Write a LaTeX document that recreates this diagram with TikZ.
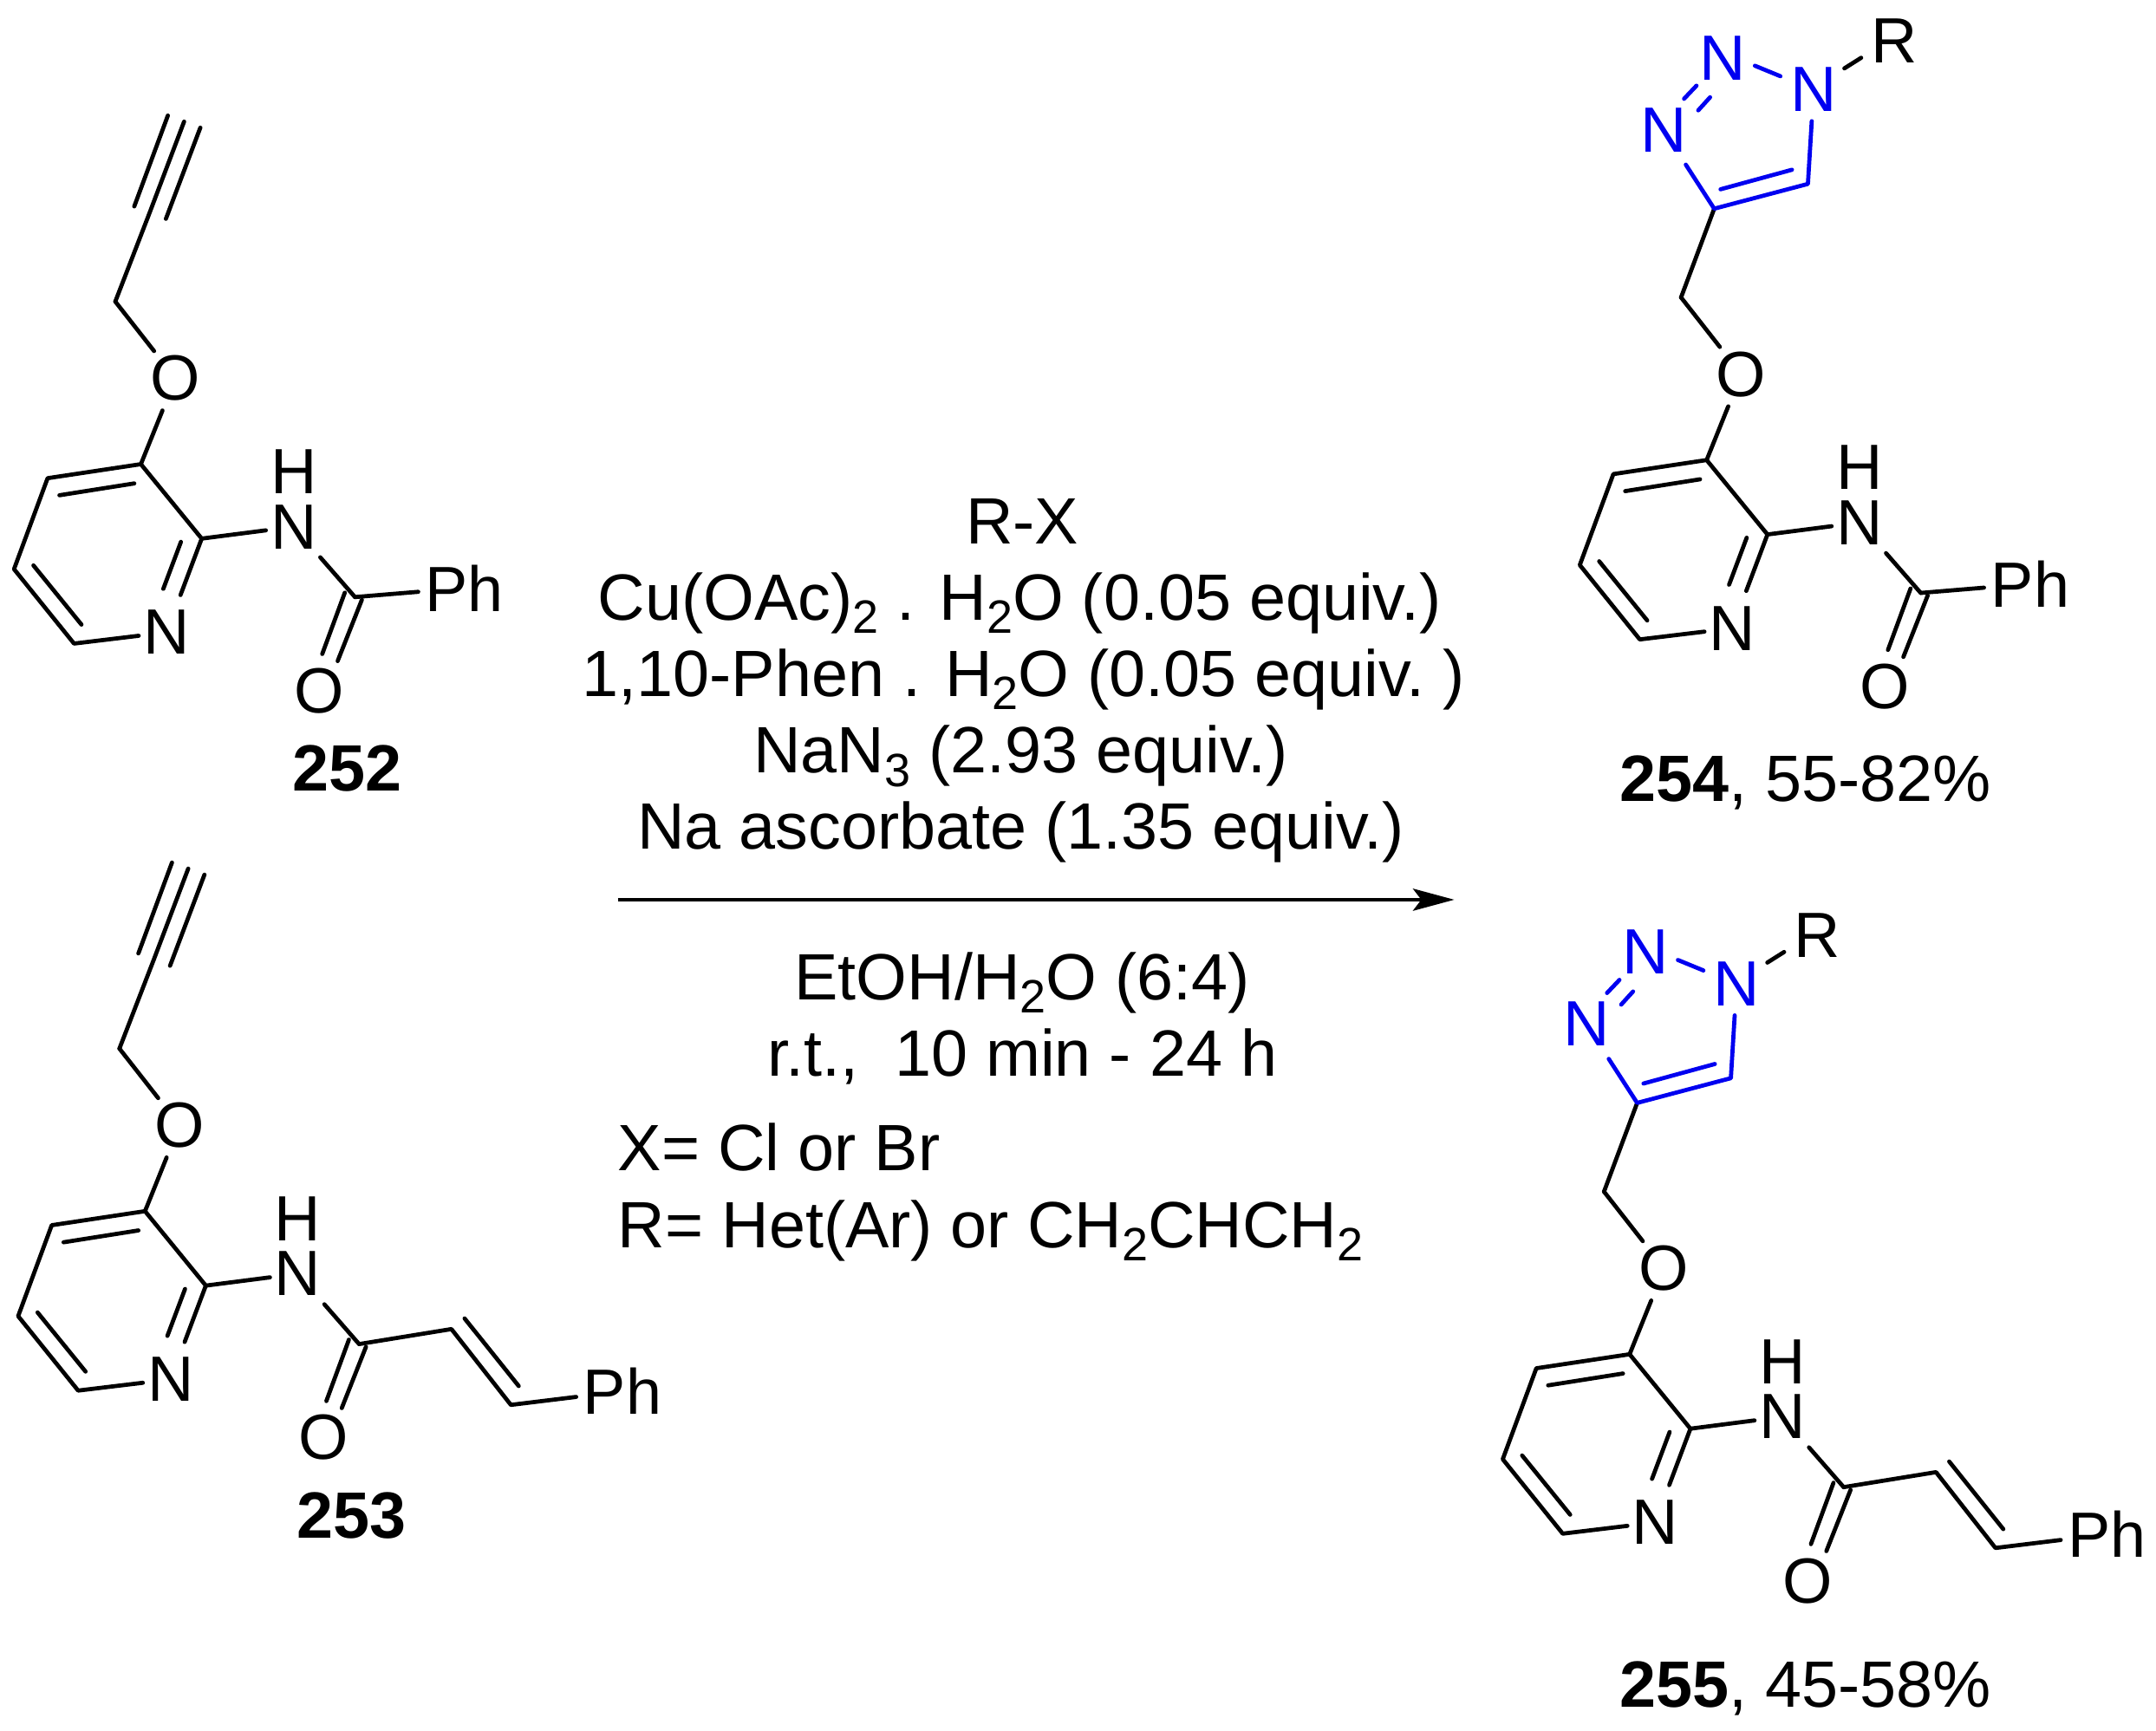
\documentclass[tikz,border=0pt]{standalone}
\usepackage{fontspec}
\setmainfont{Liberation Sans}
\usetikzlibrary{arrows.meta}
\newcommand{\chemfont}{\fontsize{46.5}{46.5}\selectfont}
\newcommand{\txtfont}{\fontsize{47.6}{47.6}\selectfont}
\newcommand{\sbs}[1]{\raisebox{-0.2em}{\fontsize{34}{34}\selectfont #1}}
\tikzset{
  bond/.style={line width=3pt,line cap=round,line join=round},
  nat/.style={inner sep=0pt,font=\chemfont,rectangle,minimum width=40pt,minimum height=54pt,yshift=2pt},
  oat/.style={inner sep=0pt,font=\chemfont,circle,minimum size=50pt},
  phat/.style={inner ysep=0pt,inner xsep=5pt,font=\chemfont,rectangle,minimum height=20pt},
  txt/.style={inner sep=0pt,font=\txtfont,anchor=base},
  txtl/.style={inner sep=0pt,font=\txtfont,anchor=base west},
  lbl/.style={inner sep=0pt,font=\txtfont,anchor=base},
  tz/.style={bond,color=triblue},
}
\definecolor{triblue}{RGB}{0,0,240}
% common part: O-pyridine-NH-C(=O)
\newcommand{\Core}[1]{%
  \coordinate (#1C2) at (146.6,391.5);
  \coordinate (#1C3) at (102.4,337.4);
  \coordinate (#1C4) at (34.6,347.6);
  \coordinate (#1C5) at (10.2,413.7);
  \coordinate (#1C6) at (53.8,467.8);
  \coordinate (#1CH) at (83.8,219.2);
  \coordinate (#1CO) at (258,434);
  \node[nat] (#1N) at (121,461.7) {N};
  \node[oat] (#1O) at (127.5,275) {O};
  \node[nat,minimum height=44pt,yshift=-2pt] (#1NH) at (213.4,382.9) {N};
  \node[inner sep=0pt,font=\chemfont] (#1H) at (213.4,342.8) {H};
  \node[oat] (#1Oc) at (232,502) {O};
  \draw[bond] (#1C2) -- (#1N) (#1N) -- (#1C6) -- (#1C5) -- (#1C4) -- (#1C3) -- (#1C2);
  \draw[bond] (#1C3) -- (#1O) (#1O) -- (#1CH);
  \draw[bond] (#1C2) -- (#1NH) (#1NH) -- (#1CO);
  \draw[bond] (131.5,393.9) -- (118.7,428);
  \draw[bond] (97.6,351.4) -- (43.2,360);
  \draw[bond] (24.3,411) -- (59.2,454);
  \draw[bond] (250.6,430.8) -- (234.2,475.4);
  \draw[bond] (263,436) -- (245.4,480.5);
}
\newcommand{\Alkyne}[1]{%
  \coordinate (#1A) at (133.8,88.4);
  \coordinate (#1B) at (108.8,154.5);
  \draw[bond] (#1CH) -- (#1B) -- (#1A);
  \draw[bond] (122,84) -- (97.6,150);
  \draw[bond] (145.6,92.8) -- (120.6,159);
}
\newcommand{\Triazole}[1]{%
  \coordinate (#1T4) at (107.9,154.7);
  \coordinate (#1T5) at (176,136.7);
  \node[nat,text=triblue,minimum height=50pt,yshift=-1pt] (#1N3) at (71,98.5) {N};
  \node[inner sep=0pt,font=\chemfont,text=triblue] (#1N2) at (114,45) {N};
  \node[nat,text=triblue,minimum height=46pt] (#1N1) at (180.2,69.9) {N};
  \node[inner sep=5pt,font=\chemfont] (#1R) at (239,32.8) {R};
  \draw[bond] (#1CH) -- (#1T4);
  \draw[tz] (#1N3) -- (#1T4) -- (#1T5) -- (#1N1);
  \draw[tz] (86,74.8) -- (95,65.3);
  \draw[tz] (96.3,83.2) -- (104.9,73.7);
  \draw[tz] (137.5,50.8) -- (156,58.4);
  \draw[tz] (112.5,140.6) -- (164.4,126.4);
  \draw[bond] (202.5,52.7) -- (214.7,45);
}
\newcommand{\Benzoyl}[1]{%
  \node[phat] (#1Ph) at (337.6,427.4) {Ph};
  \draw[bond] (#1CO) -- (#1Ph);
}
\newcommand{\Cinnamoyl}[1]{%
  \coordinate (#1Ca) at (325.1,423.1);
  \coordinate (#1Cb) at (368.3,478.2);
  \node[phat] (#1Ph) at (449.4,468.3) {Ph};
  \draw[bond] (#1CO) -- (#1Ca) -- (#1Cb) -- (#1Ph);
  \draw[bond] (334.7,415.4) -- (374,464.5);
}
\begin{document}
\begin{tikzpicture}[x=1pt,y=-1pt]
\useasboundingbox (0,0) rectangle (1567,1257.7);
\begin{scope}[shift={(0,0)}]\Core{a}\Alkyne{a}\Benzoyl{a}\end{scope}
\begin{scope}[shift={(3,543)}]\Core{b}\Alkyne{b}\Cinnamoyl{b}\end{scope}
\begin{scope}[shift={(1138,-3)}]\Core{c}\Triazole{c}\Benzoyl{c}\end{scope}
\begin{scope}[shift={(1082,647)}]\Core{d}\Triazole{d}\Cinnamoyl{d}\end{scope}
\node[lbl] (l252) at (252.5,575) {\textbf{252}};
\node[lbl] (l253) at (255.5,1118) {\textbf{253}};
\node[lbl] (l254) at (1312,582.5) {\textbf{254}, 55-82\%};
\node[lbl] (l255) at (1312,1241) {\textbf{255}, 45-58\%};
\node[txt] (t1) at (743,395.5) {R-X};
\node[txt] (t2) at (741,451) {Cu(OAc)\sbs{2} . H\sbs{2}O (0.05 equiv.)};
\node[txt] (t3) at (744,506) {1,10-Phen . H\sbs{2}O (0.05 equiv.\ )};
\node[txt] (t4) at (742,562) {NaN\sbs{3} (2.93 equiv.)};
\node[txt] (t5) at (742,617) {Na ascorbate (1.35 equiv.)};
\node[txt] (t6) at (743,727) {EtOH/H\sbs{2}O (6:4)};
\node[txt] (t7) at (743,782) {r.t.,\ \ 10 min - 24 h};
\node[txtl] (t8) at (449,851) {X= Cl or Br};
\node[txtl] (t9) at (449,907) {R= Het(Ar) or CH\sbs{2}CHCH\sbs{2}};
\coordinate (as) at (449,654);
\coordinate (ae) at (1057,654);
\draw[line width=2.6pt,-{Stealth[length=30pt,width=16pt,inset=6pt]}] (as) -- (ae);
\end{tikzpicture}
\end{document}
